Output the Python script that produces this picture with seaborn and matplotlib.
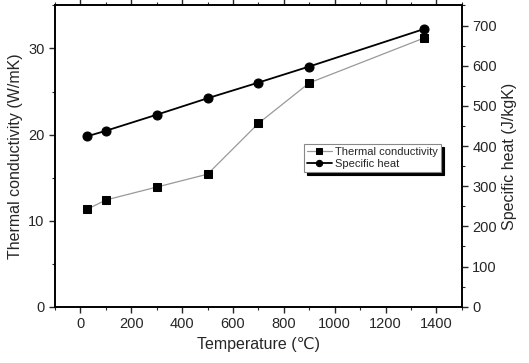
import numpy as np
import pandas as pd
import seaborn as sns
import matplotlib.pyplot as plt
from matplotlib.ticker import MultipleLocator

temperature = [25, 100, 300, 500, 700, 900, 1350]
thermal_conductivity = [11.3, 12.4, 13.9, 15.4, 21.3, 26.0, 31.2]
specific_heat = [424, 438, 478, 519, 558, 598, 691]

sns.set_style("ticks")
plt.rcParams['font.family'] = ['Liberation Sans', 'DejaVu Sans']

df = pd.DataFrame({"T": temperature, "k": thermal_conductivity, "cp": specific_heat})

fig, ax = plt.subplots(figsize=(5.29, 3.63), dpi=100)
ax2 = ax.twinx()

sns.lineplot(data=df, x="T", y="k", ax=ax, color="#999999", lw=0.9,
             marker="s", markersize=6, markerfacecolor="black", markeredgecolor="black",
             label="Thermal conductivity", legend=False)
sns.lineplot(data=df, x="T", y="cp", ax=ax2, color="black", lw=1.3,
             marker="o", markersize=6.5, markerfacecolor="black", markeredgecolor="black",
             label="Specific heat", legend=False)

ax.set_xlim(-100, 1500)
ax.set_ylim(0, 35)
ax2.set_ylim(0, 750)

ax.xaxis.set_major_locator(MultipleLocator(200))
ax.xaxis.set_minor_locator(MultipleLocator(100))
ax.yaxis.set_major_locator(MultipleLocator(10))
ax.yaxis.set_minor_locator(MultipleLocator(5))
ax2.yaxis.set_major_locator(MultipleLocator(100))
ax2.yaxis.set_minor_locator(MultipleLocator(50))

ax.set_xlabel("Temperature (\u2103)", fontsize=11.5)
ax.set_ylabel("Thermal conductivity (W/mK)", fontsize=11.5)
ax2.set_ylabel("Specific heat (J/kgK)", fontsize=11.5)

for a in (ax, ax2):
    a.tick_params(which="major", length=4, width=1, labelsize=10.5, direction="out")
    a.tick_params(which="minor", length=2.5, width=0.8, direction="out")
    for s in a.spines.values():
        s.set_linewidth(1.2)
        s.set_color("black")
ax.tick_params(axis="x", which="both", top=True, direction="out")

h1, l1 = ax.get_legend_handles_labels()
h2, l2 = ax2.get_legend_handles_labels()
leg = ax2.legend(h1 + h2, l1 + l2, loc="upper left", bbox_to_anchor=(0.598, 0.56),
                 fontsize=8, frameon=True, fancybox=False, framealpha=1,
                 shadow={"color": "black", "alpha": 1, "ox": 2.2, "oy": -2.2},
                 handlelength=2.2, borderpad=0.3, labelspacing=0.15,
                 handletextpad=0.3, markerscale=0.7)
leg.get_frame().set_edgecolor("#888888")
leg.get_frame().set_linewidth(0.8)

fig.subplots_adjust(left=0.104, right=0.873, top=0.985, bottom=0.155)
fig.savefig("out.png", dpi=100)
